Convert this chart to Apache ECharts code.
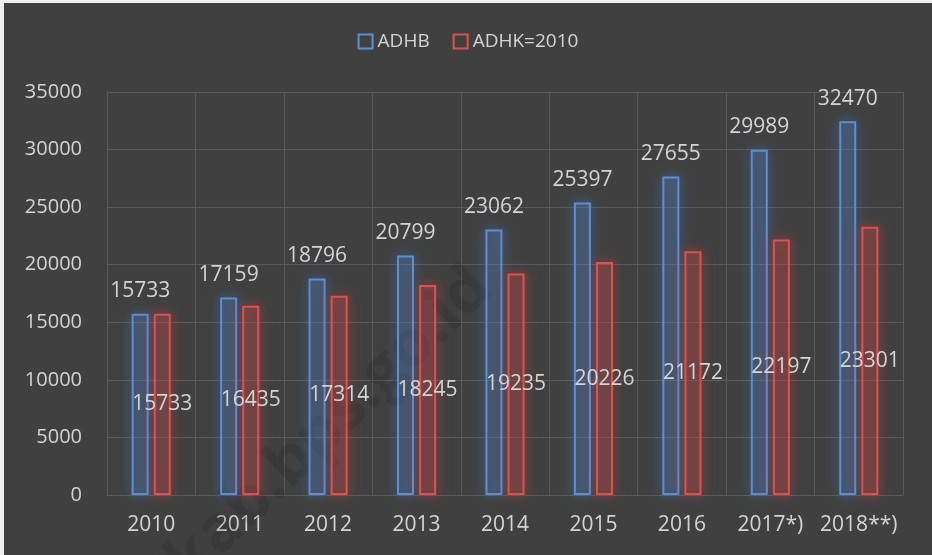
<!DOCTYPE html>
<html>
<head>
<meta charset="utf-8">
<script src="https://cdn.jsdelivr.net/npm/echarts@6/dist/echarts.min.js"></script>
<style>
html,body{margin:0;padding:0;background:#f0f0f0;width:932px;height:555px;overflow:hidden;}
#c{position:absolute;left:4px;top:3px;width:928px;height:552px;background:#404040;}
</style>
</head>
<body>
<div id="c"></div>
<script>
const categories = ['2010','2011','2012','2013','2014','2015','2016','2017*)','2018**)'];
const adhb = [15733, 17159, 18796, 20799, 23062, 25397, 27655, 29989, 32470];
const adhk = [15733, 16435, 17314, 18245, 19235, 20226, 21172, 22197, 23301];
const seriesNames = ['ADHB', 'ADHK=2010'];

const FONT = '"Open Sans", "Noto Sans", sans-serif';
const TXT = '#d4d4d4';
const GRID = '#5a5a5a';
const BLUE = '#5b8fd6';
const RED = '#e0504d';

const chart = echarts.init(document.getElementById('c'), null, {renderer: 'canvas'});
chart.setOption({
  backgroundColor: '#404040',
  animation: false,
  legend: {
    top: 24,
    left: 'center',
    itemWidth: 14,
    itemHeight: 14,
    itemGap: 23,
    icon: 'rect',
    textStyle: {color: TXT, fontSize: 19, fontFamily: FONT},
    data: [
      {name: seriesNames[0], itemStyle: {color: 'transparent', borderColor: BLUE, borderWidth: 2, shadowBlur: 0}},
      {name: seriesNames[1], itemStyle: {color: 'transparent', borderColor: RED, borderWidth: 2, shadowBlur: 0}}
    ]
  },
  grid: {left: 103, right: 29, top: 89, bottom: 60},
  xAxis: {
    type: 'category',
    data: categories,
    axisLine: {show: true, lineStyle: {color: GRID}},
    axisTick: {show: false},
    splitLine: {show: true, lineStyle: {color: GRID}},
    axisLabel: {color: TXT, fontSize: 21, fontFamily: FONT, margin: 20, interval: 0}
  },
  yAxis: {
    type: 'value',
    min: 0, max: 35000, interval: 5000,
    axisLine: {show: false},
    axisTick: {show: false},
    splitLine: {show: true, lineStyle: {color: GRID}},
    axisLabel: {color: TXT, fontSize: 20, fontFamily: FONT, margin: 25, formatter: function (v) { return String(v); }}
  },
  graphic: [{
    type: 'text',
    x: 312, y: 436,
    rotation: 44 * Math.PI / 180,
    z: 1,
    silent: true,
    style: {
      text: 'ilkab.bps.go.id',
      x: 0, y: 0,
      fill: 'rgba(0,0,0,0.11)',
      font: 'bold 64px "Open Sans", sans-serif',
      align: 'center', verticalAlign: 'middle'
    }
  }],
  series: [
    {
      name: seriesNames[0],
      type: 'bar',
      data: adhb,
      barWidth: 17,
      barGap: '30%',
      itemStyle: {
        color: 'rgba(91,143,214,0.14)',
        borderColor: BLUE,
        borderWidth: 2,
        shadowBlur: 14,
        shadowColor: 'rgba(80,135,215,0.95)'
      },
      label: {
        show: true, position: 'top', distance: 12,
        color: TXT, fontSize: 21, fontFamily: FONT
      }
    },
    {
      name: seriesNames[1],
      type: 'bar',
      data: adhk,
      barWidth: 17,
      barGap: '30%',
      itemStyle: {
        color: 'rgba(224,80,77,0.14)',
        borderColor: RED,
        borderWidth: 2,
        shadowBlur: 14,
        shadowColor: 'rgba(225,75,72,0.95)'
      },
      label: {
        show: true, position: 'inside',
        color: TXT, fontSize: 21, fontFamily: FONT
      }
    }
  ]
});
</script>
</body>
</html>
